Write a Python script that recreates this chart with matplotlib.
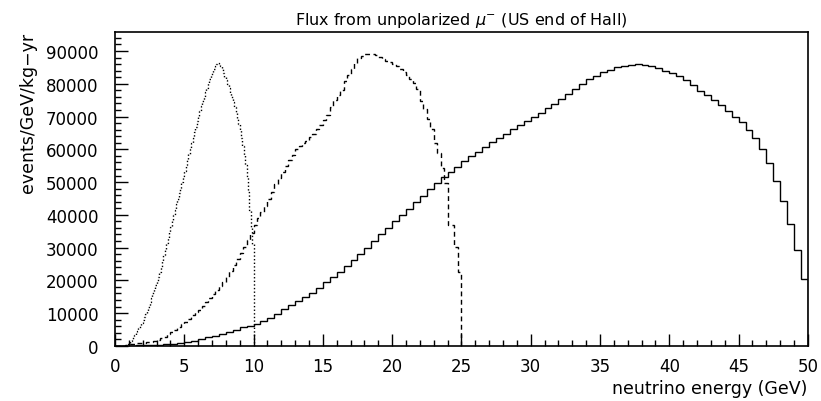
import numpy as np
import matplotlib
matplotlib.use("Agg")
import matplotlib.pyplot as plt
from matplotlib.ticker import MultipleLocator

# bin ranges (GeV) for the three histograms
dotted_range = (0, 10)
dashed_range = (0, 25)
solid_range = (0, 50)

# dotted: 0.1 GeV bins, 0 - 10 GeV
dotted_vals = [
    0, 0, 0, 0, 0, 0, 0, 0, 200, 500,
    900, 1400, 2000, 2600, 3300, 4000, 4700, 5400, 6200, 7000,
    7800, 8700, 9700, 10800, 12000, 13300, 14600, 16000, 17300, 18600,
    19800, 21100, 22600, 24200, 25900, 27700, 29500, 31300, 33000, 34700,
    36400, 38100, 39800, 41500, 43200, 44900, 46600, 48300, 50000, 51700,
    53400, 55100, 56800, 58500, 60200, 61800, 63500, 65200, 66900, 68500,
    70100, 71600, 73100, 74600, 76000, 77400, 78800, 80100, 81400, 82600,
    83700, 84600, 85400, 86000, 86200, 85900, 85300, 84500, 83400, 82200,
    81000, 79800, 78600, 77300, 75900, 74500, 73000, 71500, 69700, 67800,
    66000, 63500, 61000, 58300, 55300, 51500, 47000, 41500, 36000, 31000,
]

# dashed: 0.25 GeV bins, 0 - 25 GeV
dashed_vals = [
    0, 0, 100, 300,
    500, 700, 800, 900, 1000, 1100, 1300, 1600,
    1900, 2300, 2800, 3500, 4200, 5000, 5900, 6700,
    7300, 8300, 9400, 10300, 11100, 12100, 13400, 14600,
    15800, 17000, 18200, 19400, 21000, 23000, 24600, 26400,
    28300, 30300, 32400, 34600, 36800, 39000, 40800, 42800,
    44900, 47100, 49300, 51300, 53100, 54800, 56600, 58400,
    60000, 61000, 61800, 62600, 63600, 64800, 66200, 67500,
    68800, 70600, 72800, 75000, 76500, 78200, 80700, 82700,
    84500, 86200, 87800, 88600, 89000, 89100, 89100, 88700,
    88200, 87600, 87000, 86500, 86000, 85300, 84400, 83500,
    82600, 81500, 80200, 78400, 74800, 72200, 69200, 66100,
    62000, 59000, 54400, 49800, 37000, 37000, 30100, 22500,
]

# solid: 0.5 GeV bins, 0 - 50 GeV
solid_vals = [
    0, 50, 100, 150, 200, 300, 400, 500, 700, 900,
    1200, 1600, 2000, 2600, 3100, 3700, 4300, 5000, 5700, 6200,
    6700, 7500, 8500, 9800, 11200, 12500, 13600, 14800, 16300, 17800,
    19400, 21000, 22700, 24500, 26300, 28200, 30000, 31900, 34000, 36000,
    38000, 39900, 41900, 43900, 45800, 47800, 49800, 51400, 53000, 54700,
    56400, 57900, 59300, 60800, 62100, 63500, 64800, 66100, 67400, 68700,
    69900, 71200, 72500, 73900, 75400, 77000, 78400, 79900, 81300, 82400,
    83500, 84300, 85000, 85500, 85800, 86000, 85700, 85300, 84700, 84000,
    83200, 82400, 81200, 79600, 77800, 76500, 75100, 73400, 71800, 70000,
    68200, 65900, 63300, 60000, 55700, 50300, 44200, 37300, 29200, 20400,
]

x_ticks = [0, 5, 10, 15, 20, 25, 30, 35, 40, 45, 50]
y_ticks = [0, 10000, 20000, 30000, 40000, 50000, 60000, 70000, 80000, 90000]

fig = plt.figure(figsize=(8.21, 4.02), dpi=100)
ax = fig.add_axes([0.140, 0.137, 0.844, 0.781])

for vals, rng, ls in [(dotted_vals, dotted_range, (0, (1, 1.6))),
                      (dashed_vals, dashed_range, (0, (3.5, 2.5))),
                      (solid_vals, solid_range, '-')]:
    edges = np.linspace(rng[0], rng[1], len(vals) + 1)
    ax.stairs(vals, edges, baseline=0, color='black', linewidth=1.0,
              linestyle=ls)

ax.set_xlim(0, 50)
ax.set_ylim(0, 95800)
ax.set_xticks(x_ticks)
ax.set_yticks(y_ticks)
ax.set_yticklabels([str(v) for v in y_ticks])
ax.xaxis.set_minor_locator(MultipleLocator(1))
ax.yaxis.set_minor_locator(MultipleLocator(2000))
ax.tick_params(which='both', direction='in', top=False, right=False,
               width=1.0, labelsize=12)
ax.tick_params(which='major', length=9)
ax.tick_params(which='minor', length=4.5)
ax.tick_params(axis='x', pad=8)
ax.tick_params(axis='y', pad=12)
for sp in ax.spines.values():
    sp.set_linewidth(1.2)

ax.set_title(r'Flux from unpolarized $\mu^{-}$ (US end of Hall)',
             fontsize=11.5, pad=6)
ax.set_xlabel('neutrino energy (GeV)', fontsize=12.5, loc='right', labelpad=3)
ax.set_ylabel('events/GeV/kg\u2212yr', fontsize=12.5, loc='top', labelpad=6)

fig.savefig('out.png', dpi=100)
